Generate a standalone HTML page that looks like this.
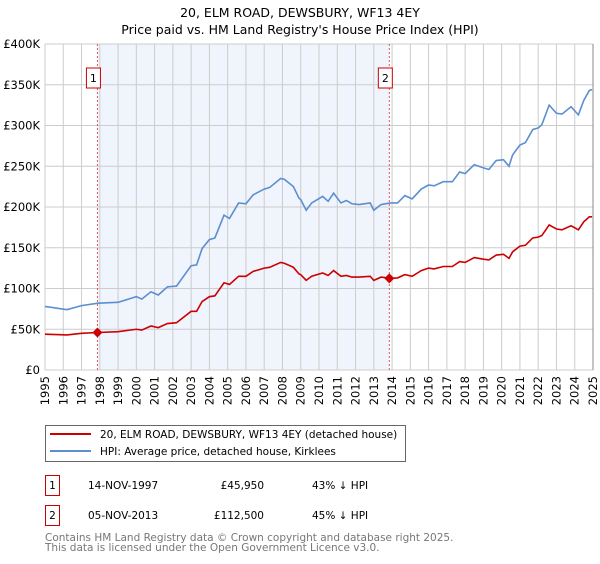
<!DOCTYPE html>
<html><head><meta charset="utf-8"><style>
body{margin:0;background:#fff;font-family:"DejaVu Sans","Liberation Sans",sans-serif;}
svg text{font-family:"DejaVu Sans","Liberation Sans",sans-serif;}
</style></head><body>
<svg id="chart" width="600" height="560" xmlns="http://www.w3.org/2000/svg">
<text x="300" y="17" text-anchor="middle" font-size="12.5" fill="#000">20, ELM ROAD, DEWSBURY, WF13 4EY</text>
<text x="300" y="34" text-anchor="middle" font-size="12.5" fill="#000">Price paid vs. HM Land Registry's House Price Index (HPI)</text>
<g id="plot"></g>
<g>
<rect x="45.5" y="425.5" width="360" height="36" fill="#fff" stroke="#666"/>
<line x1="50" y1="434" x2="91" y2="434" stroke="#cc0000" stroke-width="2"/>
<text x="100" y="438" font-size="10.5">20, ELM ROAD, DEWSBURY, WF13 4EY (detached house)</text>
<line x1="50" y1="451" x2="91" y2="451" stroke="#5b8fd0" stroke-width="2"/>
<text x="100" y="455" font-size="10.5">HPI: Average price, detached house, Kirklees</text>
</g>
<g font-size="10.5">
<rect x="45.5" y="475.5" width="14" height="20" fill="#fff" stroke="#cc0000"/>
<text x="52.5" y="489" text-anchor="middle">1</text>
<text x="88" y="489">14-NOV-1997</text>
<text x="264" y="489" text-anchor="end">£45,950</text>
<text x="312" y="489">43% ↓ HPI</text>
<rect x="45.5" y="505.5" width="14" height="20" fill="#fff" stroke="#cc0000"/>
<text x="52.5" y="519" text-anchor="middle">2</text>
<text x="88" y="519">05-NOV-2013</text>
<text x="264" y="519" text-anchor="end">£112,500</text>
<text x="312" y="519">45% ↓ HPI</text>
</g>
<text x="45" y="541" font-size="10.5" fill="#777">Contains HM Land Registry data © Crown copyright and database right 2025.</text>
<text x="45" y="551" font-size="10.5" fill="#777">This data is licensed under the Open Government Licence v3.0.</text>
</svg>
<script>
const hpiYears=[1995,1996.2,1997,1997.9,1999,2000,2000.3,2000.8,2001.2,2001.7,2002.2,2003,2003.3,2003.6,2004,2004.3,2004.8,2005.1,2005.6,2006,2006.4,2007,2007.3,2007.9,2008.1,2008.6,2008.9,2009,2009.3,2009.6,2010.2,2010.5,2010.8,2011.2,2011.5,2011.8,2012.2,2012.8,2013,2013.4,2013.9,2014.3,2014.7,2015.1,2015.6,2016,2016.3,2016.8,2017.3,2017.7,2018,2018.5,2019,2019.3,2019.7,2020.1,2020.4,2020.6,2021,2021.3,2021.7,2022,2022.2,2022.6,2023,2023.3,2023.8,2024.2,2024.5,2024.8,2024.95];
const hpiValues=[78,74,79,82,83,90,87,96,92,102,103,128,129,149,160,162,190,186,205,204,215,222,224,235,234,225,211,209,196,205,213,207,217,205,208,204,203,205,196,203,205,205,214,210,222,227,226,231,231,243,241,252,248,246,257,258,250,264,276,279,295,297,301,325,315,314,323,313,331,343,344];
const priceValues=[44,43,45,46,47,50,49,54,52,57,58,72,72,84,90,91,107,105,115,115,121,125,126,132,131,126,118,117,110,115,119,116,122,115,116,114,114,115,110,114,112.5,113,117,115,122,125,124,127,127,133,132,138,136,135,141,142,137,145,152,153,162,163,165,178,173,172,177,172,182,188,188];
const saleYears=[1997.87,2013.85];
const saleValues=[45.95,112.5];
const saleLabels=["1","2"];
const yTicks=[0,50,100,150,200,250,300,350,400];
const yTickLabels=["£0","£50K","£100K","£150K","£200K","£250K","£300K","£350K","£400K"];
const xTicks=[];for(let y=1995;y<=2025;y++)xTicks.push(y);

const X0=45,X1=593,Y0=370,Y1=44;
const xs=v=>X0+(v-1995)/30*(X1-X0);
const ys=v=>Y0-v/400*(Y0-Y1);
const NS="http://www.w3.org/2000/svg";
const g=document.getElementById('plot');
function mk(t,a){const e=document.createElementNS(NS,t);for(const k in a)e.setAttribute(k,a[k]);g.appendChild(e);return e;}

const shade=mk('rect',{x:xs(saleYears[0]),y:Y1,width:xs(saleYears[1])-xs(saleYears[0]),height:Y0-Y1,fill:'#f0f4fc'});


xTicks.forEach(t=>{
  const l=mk('line',{x1:xs(t),x2:xs(t),y1:Y1,y2:Y0,stroke:'#cccccc','stroke-width':1});
  
  
  const tx=mk('text',{x:0,y:0,'font-size':11.5,'text-anchor':'end',transform:`translate(${xs(t)+4},${Y0+6}) rotate(-90)`});
  tx.textContent=t;
  
  
});
yTicks.forEach((t,i)=>{
  const l=mk('line',{x1:X0,x2:X1,y1:ys(t),y2:ys(t),stroke:'#cccccc','stroke-width':1});
  
  
  const tx=mk('text',{x:40,y:ys(t)+4,'font-size':11.5,'text-anchor':'end'});
  tx.textContent=yTickLabels[i];
  
  
});
saleYears.forEach((s,i)=>{
  const l=mk('line',{x1:xs(s),x2:xs(s),y1:Y1,y2:Y0,stroke:'#e05555','stroke-width':1,'stroke-dasharray':'2,2'});
  
  
  const r=mk('rect',{x:xs(s)-11,y:68,width:14,height:20,fill:'#fff',stroke:'#cc0000'});
  
  
  const t=mk('text',{x:xs(s)-4,y:82,'font-size':11,'text-anchor':'middle'});
  t.textContent=saleLabels[i];
  
  
});
const hp=mk('polyline',{points:hpiYears.map((y,i)=>xs(y)+','+ys(hpiValues[i])).join(' '),fill:'none',stroke:'#5b8fd0','stroke-width':1.6});


const pp=mk('polyline',{points:hpiYears.map((y,i)=>xs(y)+','+ys(priceValues[i])).join(' '),fill:'none',stroke:'#cc0000','stroke-width':1.6});


saleYears.forEach((s,i)=>{
  const x=xs(s),y=ys(saleValues[i]);
  const d=mk('polygon',{points:`${x},${y-5} ${x+5},${y} ${x},${y+5} ${x-5},${y}`,fill:'#cc0000'});
  
  
});
const ax=mk('line',{x1:X1,x2:X1,y1:Y1,y2:Y0,stroke:'#888','stroke-width':1});


</script>
</body></html>
